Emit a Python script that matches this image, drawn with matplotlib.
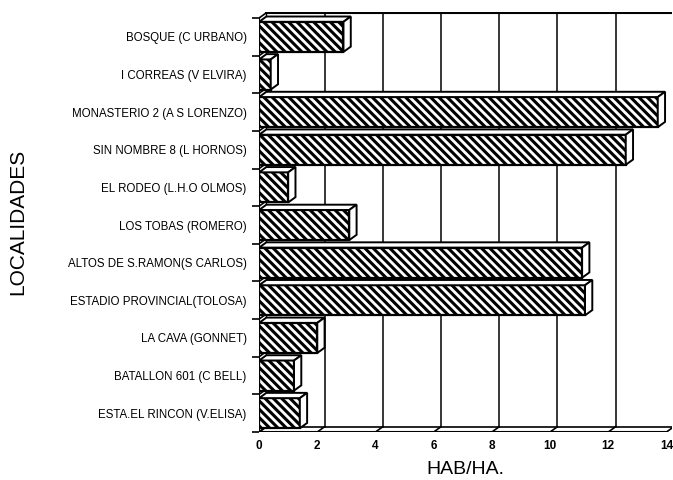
import matplotlib.pyplot as plt
from matplotlib.patches import Polygon
import numpy as np

plt.rcParams['font.family'] = ['Liberation Sans', 'DejaVu Sans']
plt.rcParams['hatch.linewidth'] = 2.2

localidades = ['BOSQUE (C URBANO)', 'I CORREAS (V ELVIRA)', 'MONASTERIO 2 (A S LORENZO)',
               'SIN NOMBRE 8 (L HORNOS)', 'EL RODEO (L.H.O OLMOS)', 'LOS TOBAS (ROMERO)',
               'ALTOS DE S.RAMON(S CARLOS)', 'ESTADIO PROVINCIAL(TOLOSA)', 'LA CAVA (GONNET)',
               'BATALLON 601 (C BELL)', 'ESTA.EL RINCON (V.ELISA)']
hab_ha = [2.9, 0.4, 13.7, 12.6, 1.0, 3.1, 11.1, 11.2, 2.0, 1.2, 1.4]
xticks = [0, 2, 4, 6, 8, 10, 12, 14]

# profundidad del efecto 3d
dx = 0.25
dy = 0.14
h = 0.8
n = len(localidades)
ybot = n - 0.5
ytop = -0.5

fig = plt.figure(figsize=(6.73, 4.8), dpi=100)
ax = fig.add_axes([0.385, 0.1, 0.614, 0.875])
ax.set_xlim(0, 14.2)
ax.set_ylim(ybot, ytop - dy - 0.02)
for s in ax.spines.values():
    s.set_visible(False)

# pared del fondo: grilla
for xv in xticks[1:-1]:
    ax.plot([xv + dx, xv + dx], [ybot - dy, ytop - dy], color='black', lw=1.1, zorder=1)
ax.plot([14 + dx, 14 + dx], [ybot - dy, ytop - dy], color='0.6', lw=0.8, ls=(0, (3, 3)), zorder=1)
ax.plot([dx, 14 + dx], [ytop - dy, ytop - dy], color='black', lw=1.5, zorder=1)
ax.plot([dx, dx], [ybot - dy, ytop - dy], color='black', lw=1, zorder=1)

# piso
ax.plot([0, 14], [ybot, ybot], color='black', lw=1.5, zorder=1)
ax.plot([dx, 14 + dx], [ybot - dy, ybot - dy], color='black', lw=1.2, zorder=1)
for xv in xticks:
    ax.plot([xv, xv + dx], [ybot, ybot - dy], color='black', lw=1.2, zorder=1)

# pared izquierda
ax.plot([0, 0], [ybot, ytop], color='black', lw=1.5, zorder=5)
for k in range(n + 1):
    b = ytop + k
    ax.plot([0, dx], [b, b - dy], color='black', lw=1.2, zorder=1)

# barras
ys = np.arange(n)
ax.barh(ys, hab_ha, height=h, color='white', edgecolor='black', hatch='\\\\\\\\', lw=1.6, zorder=3)
for y, v in zip(ys, hab_ha):
    t = y - h / 2
    b = y + h / 2
    top = Polygon([(0, t), (v, t), (v + dx, t - dy), (dx, t - dy)], closed=True,
                  facecolor='white', edgecolor='black', lw=1.4, zorder=4)
    side = Polygon([(v, t), (v + dx, t - dy), (v + dx, b - dy), (v, b)], closed=True,
                   facecolor='white', edgecolor='black', lw=1.4, zorder=4)
    ax.add_patch(top)
    ax.add_patch(side)

ax.set_yticks([ytop + k for k in range(n + 1)])
ax.set_yticklabels([])
ax.set_yticks(ys, minor=True)
ax.set_yticklabels(localidades, minor=True, fontsize=8.3)
ax.tick_params(axis='y', which='major', length=5, width=1.2)
ax.tick_params(axis='y', which='minor', length=0, pad=9)

ax.set_xticks(xticks)
ax.set_xticklabels([str(v) for v in xticks], fontsize=8.5, fontweight='bold')
ax.tick_params(axis='x', length=0, pad=6)

ax.set_xlabel('HAB/HA.', fontsize=14, labelpad=6)
ax.set_ylabel('LOCALIDADES', fontsize=15)
ax.yaxis.set_label_coords(-0.56, 0.5)

fig.savefig('out.png', dpi=100)
